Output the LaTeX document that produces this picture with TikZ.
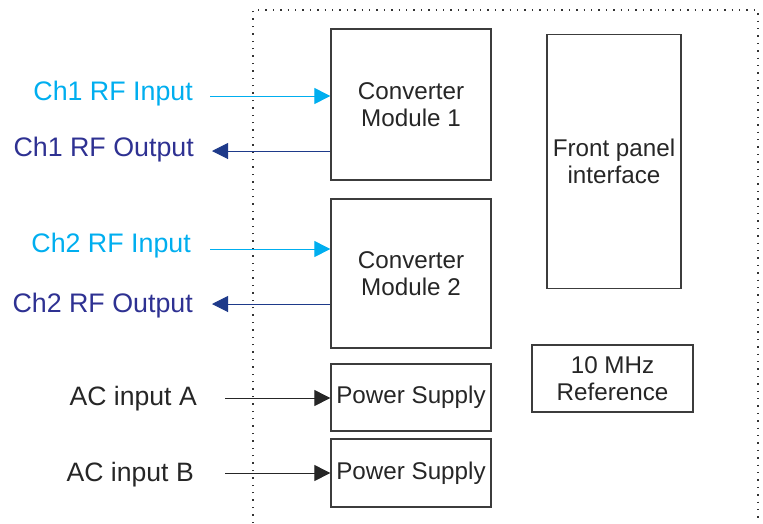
\documentclass[tikz,border=0pt]{standalone}
\usepackage{fontspec}
\setmainfont{Liberation Sans}
\usetikzlibrary{arrows.meta}
\definecolor{cyanin}{HTML}{00AEEF}
\definecolor{navyout}{HTML}{2E3192}
\definecolor{navyarrow}{HTML}{1E3A8A}
\definecolor{boxgray}{HTML}{3C3C3C}
\begin{document}
\begin{tikzpicture}[x=1pt,y=-1pt,
  blk/.style={draw=boxgray,line width=1.3pt,inner sep=0pt,align=center,font=\fontsize{24.2}{27}\selectfont,text=black!85},
  lbl/.style={inner sep=0pt,anchor=base east,font=\fontsize{26.8}{32}\selectfont},
  aclbl/.style={inner sep=0pt,anchor=base east,font=\fontsize{26.6}{30}\selectfont,text=black!85},
  conn/.style={line width=1pt,-{Triangle[length=16pt,width=16pt]}},
  encl/.style={draw=black!80,line width=1.4pt,dash pattern=on 1.4pt off 6pt}]
\useasboundingbox (0,0) rectangle (763,523);
% enclosure
\draw[encl] (253,523) -- (253,10) -- (758,10) -- (758,523);
% blocks
\node[blk,minimum width=160pt,minimum height=151pt] (cm1) at (411,104.5) {Converter\\Module 1};
\node[blk,minimum width=160pt,minimum height=149pt] (cm2) at (411,273.5) {Converter\\Module 2};
\node[blk,minimum width=134pt,minimum height=254pt] (fp) at (614,161.5) {Front panel\\interface};
\node[blk,minimum width=160pt,minimum height=67pt] (ps1) at (411,397.5) {Power Supply};
\node[blk,minimum width=160pt,minimum height=68pt] (ps2) at (411,473) {Power Supply};
\node[blk,minimum width=161pt,minimum height=67pt] (ref) at (612.5,378.5) {10 MHz\\Reference};
% labels
\node[lbl,text=cyanin] (l1i) at (193,100) {Ch1 RF Input};
\node[lbl,text=navyout] (l1o) at (194,156) {Ch1 RF Output};
\node[lbl,text=cyanin] (l2i) at (191,252.7) {Ch2 RF Input};
\node[lbl,text=navyout] (l2o) at (193,312) {Ch2 RF Output};
\node[aclbl] (lacA) at (197,405.7) {AC input A};
\node[aclbl] (lacB) at (194,481) {AC input B};
% connector ends
\coordinate (in1) at (210,96);
\coordinate (out1) at (212,151);
\coordinate (in2) at (210,249);
\coordinate (out2) at (212,304);
\coordinate (acA) at (225,398);
\coordinate (acB) at (225,473);
% connectors
\draw[conn,cyanin] (in1) -- (in1 -| cm1.west);
\draw[conn,navyarrow] (cm1.west |- out1) -- (out1);
\draw[conn,cyanin] (in2) -- (in2 -| cm2.west);
\draw[conn,navyarrow] (cm2.west |- out2) -- (out2);
\draw[conn,black!85] (acA) -- (acA -| ps1.west);
\draw[conn,black!85] (acB) -- (acB -| ps2.west);
\end{tikzpicture}
\end{document}
